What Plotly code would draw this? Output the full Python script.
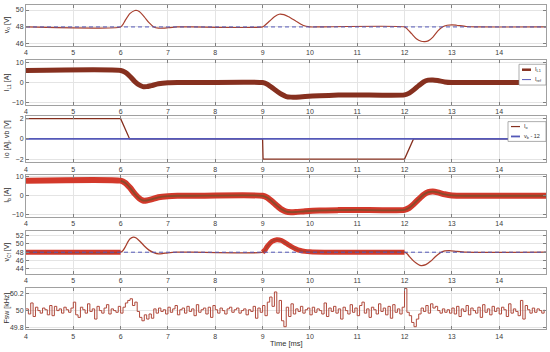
import numpy as np
import plotly.graph_objects as go

# ---------------- data ----------------
t_vo = [4, 6.0, 6.05, 6.1, 6.2, 6.3, 6.35, 6.4, 6.5, 6.6, 6.7, 6.8, 6.9, 7.0, 7.2, 7.5,
        9.0, 9.05, 9.15, 9.25, 9.35, 9.45, 9.55, 9.7, 9.85, 10.0, 10.2,
        12.0, 12.05, 12.15, 12.25, 12.35, 12.43, 12.5, 12.6, 12.7, 12.8, 12.9, 13.0, 13.1, 13.3, 13.5, 15]
vo = [48, 48, 48.3, 48.8, 49.6, 49.95, 49.95, 49.8, 49.2, 48.5, 48.0, 47.85, 47.85, 47.9, 48.0, 48.0,
      48.0, 48.2, 48.7, 49.2, 49.5, 49.45, 49.2, 48.7, 48.2, 48.0, 48.0,
      48.0, 47.8, 47.2, 46.6, 46.3, 46.25, 46.35, 46.8, 47.5, 48.0, 48.2, 48.25, 48.2, 48.05, 48.0, 48.0]
t_ref = [4, 15]
vo_ref = [48, 48]

t_il = [4, 6.0, 6.1, 6.2, 6.3, 6.4, 6.47, 6.55, 6.65, 6.8, 7.0, 7.2, 7.5,
        9.0, 9.1, 9.2, 9.3, 9.4, 9.5, 9.6, 9.7, 9.9, 10.2, 10.6, 11,
        12.0, 12.1, 12.2, 12.3, 12.4, 12.5, 12.6, 12.7, 12.85, 13.0, 13.3, 15]
i_l1 = [6, 6, 5.0, 3.0, 0.5, -1.3, -2.0, -2.0, -1.5, -0.6, -0.1, 0, 0,
        0, -0.8, -2.5, -4.2, -5.8, -6.9, -7.2, -7.2, -6.9, -6.5, -6.2, -6.1,
        -6.1, -5.2, -3.5, -1.5, 0.3, 1.2, 1.3, 1.0, 0.3, 0, 0, 0]
i_ref = [6, 6, 5.0, 3.0, 0.5, -1.0, -1.5, -1.5, -1.2, -0.5, -0.1, 0, 0,
         0, -0.8, -2.5, -4.2, -5.6, -6.5, -6.8, -6.8, -6.6, -6.4, -6.2, -6.1,
         -6.1, -5.2, -3.5, -1.5, 0.2, 1.0, 1.1, 0.9, 0.3, 0, 0, 0]

t_io = [4, 6.0, 6.19, 9.0, 9.01, 12.0, 12.19, 15]
i_o = [2, 2, 0, 0, -2, -2, 0, 0]
t_vb = [4, 15]
vb_m12 = [0, 0]

t_ib = t_il
i_b = [8, 8, 6.8, 4.2, 1.0, -1.5, -2.5, -2.5, -1.9, -0.8, -0.2, 0, 0,
       0, -1.0, -3.0, -5.2, -7.2, -8.4, -8.7, -8.6, -8.2, -7.8, -7.6, -7.5,
       -7.5, -6.4, -4.3, -1.8, 0.5, 1.9, 2.2, 1.8, 0.8, 0.2, 0, 0]

t_vc = [4, 6.0, 6.05, 6.1, 6.15, 6.2, 6.27, 6.33, 6.4, 6.5, 6.6, 6.7, 6.8, 6.9, 7.0, 7.2, 7.5,
        9.0, 9.05, 9.1, 9.2, 9.3, 9.4, 9.5, 9.6, 9.7, 9.8, 9.9, 10.0, 10.3,
        12.0, 12.05, 12.1, 12.2, 12.3, 12.35, 12.45, 12.55, 12.65, 12.75, 12.85, 12.95, 13.1, 13.3, 15]
v_cf = [48, 48, 48.4, 49.3, 50.4, 51.2, 51.6, 51.4, 50.7, 49.5, 48.5, 47.9, 47.6, 47.7, 47.85, 48.0, 48.0,
        48.0, 48.5, 49.4, 50.6, 51.0, 50.8, 50.1, 49.4, 48.8, 48.4, 48.2, 48.1, 48.0,
        48.0, 47.7, 47.0, 45.8, 45.0, 44.8, 45.0, 45.8, 46.9, 47.8, 48.3, 48.4, 48.2, 48.0, 48.0]
vcf_ref = [48, 48]

fsw = [50.02, 49.96, 50.09, 49.93, 50.04, 50.00, 49.97, 50.03, 50.01, 49.95, 50.06, 49.94, 50.05, 50.00, 50.02, 49.97, 50.04, 50.01, 49.98, 50.03,
       50.10, 49.95, 49.92, 50.04, 50.01, 49.97, 50.08, 49.99, 50.02, 49.90, 50.05, 50.00, 49.97, 50.03, 50.07, 49.96, 50.02, 50.00, 49.98, 50.05,
       49.97, 50.04, 50.09, 50.12, 50.14, 50.06, 50.10, 49.99, 49.92, 49.88, 49.95, 49.90, 49.96, 49.91, 50.02, 49.97, 50.03, 49.99, 50.01, 49.96,
       50.04, 49.98, 50.02, 50.06, 49.95, 50.01, 50.03, 49.97, 50.05, 49.99, 50.02, 49.94, 50.07, 49.98, 50.01, 50.03, 49.96, 50.04, 49.92, 50.06,
       50.01, 49.97, 50.03, 50.00, 49.96, 50.02, 50.04, 49.98, 50.01, 50.03, 49.97, 50.00, 50.02, 49.95, 50.01, 49.99, 50.05, 49.91, 50.03, 49.98,
       50.06, 49.94, 50.10, 50.16, 50.05, 50.22, 49.97, 50.12, 49.88, 49.81, 50.04, 49.93, 50.08, 49.96, 50.02, 49.99, 50.05, 49.97, 50.01, 50.03,
       49.95, 50.04, 49.98, 50.02, 50.00, 49.96, 50.09, 49.93, 50.03, 49.99, 50.05, 49.97, 50.02, 49.90, 50.04, 50.00, 49.96, 50.07, 49.98, 50.03,
       49.94, 50.06, 50.10, 49.97, 50.02, 49.92, 50.04, 50.01, 49.96, 50.08, 49.99, 50.03, 49.95, 50.05, 49.91, 50.07, 49.98, 50.02, 49.96, 50.04,
       50.26, 49.98, 49.94, 49.86, 49.81, 49.90, 49.96, 50.03, 49.99, 50.06, 49.97, 50.08, 50.03, 50.05, 50.00, 49.97, 50.02, 49.98, 50.01, 49.97,
       50.03, 49.96, 50.05, 49.93, 50.02, 49.99, 50.06, 49.95, 50.03, 50.00, 49.97, 50.04, 49.92, 50.07, 49.98, 50.02, 49.95, 50.05, 49.99, 50.03,
       49.96, 50.04, 50.01, 49.93, 50.08, 49.97, 50.02, 49.99, 49.94, 50.12, 49.90, 50.06, 50.01, 49.97, 50.03, 49.98, 50.02, 50.00, 49.97, 50.01]
t_fsw = np.round(4.0 + 0.05 * np.arange(len(fsw)), 3)

x_ticks = [4, 5, 6, 7, 8, 9, 10, 11, 12, 13, 14]
y_ticks = [[46, 48, 50], [-10, 0, 10], [-2, 0, 2], [-10, 0, 10], [44, 46, 48, 50, 52], [49.8, 50, 50.2]]
y_ranges = [[45.8, 50.6], [-11, 11], [-2.3, 2.3], [-11, 11], [42.8, 53], [49.78, 50.27]]
y_titles = ["v<sub>o</sub> [V]", "I<sub>L1</sub> [A]", "io [A], vb [V]", "I<sub>b</sub> [A]",
            "v<sub>Cf</sub> [V]", "Fsw [kHz]"]
legend_p2 = ["I<sub>L1</sub>", "I<sub>ref</sub>"]
legend_p3 = ["I<sub>o</sub>", "v<sub>b</sub> - 12"]

# ---------------- styling ----------------
W, H = 550, 352
L, R = 26, 4
PW = W - L - R
boxes = [(3, 44), (59, 104), (115, 162), (175, 217), (232, 275), (289, 331)]
FONT = "Liberation Sans"
RED = "#a8402f"
DARK = "#86301f"
BAND = "#d3392b"
BLUE = "#5458b8"

def px(x):
    return (x - L) / PW

def py(y):
    return 1 - y / H

fig = go.Figure()

def ax(i):
    return ("x" if i == 0 else f"x{i+1}"), ("y" if i == 0 else f"y{i+1}")

spl = dict(shape="spline", smoothing=0.6)

# P1
xa, ya = ax(0)
fig.add_trace(go.Scatter(x=t_vo, y=vo, mode="lines", line=dict(color=RED, width=1.2, **spl),
                         xaxis=xa, yaxis=ya))
fig.add_trace(go.Scatter(x=t_ref, y=vo_ref, mode="lines", line=dict(color=BLUE, width=1, dash="4px,3px"),
                         xaxis=xa, yaxis=ya))
# P2
xa, ya = ax(1)
fig.add_trace(go.Scatter(x=t_il, y=i_ref, mode="lines", line=dict(color=BLUE, width=1, **spl),
                         xaxis=xa, yaxis=ya, name=legend_p2[1]))
fig.add_trace(go.Scatter(x=t_il, y=i_l1, mode="lines", line=dict(color=DARK, width=5, **spl),
                         xaxis=xa, yaxis=ya, name=legend_p2[0]))
# P3
xa, ya = ax(2)
fig.add_trace(go.Scatter(x=t_io, y=i_o, mode="lines", line=dict(color=DARK, width=1.3),
                         xaxis=xa, yaxis=ya, name=legend_p3[0]))
fig.add_trace(go.Scatter(x=t_vb, y=vb_m12, mode="lines", line=dict(color=BLUE, width=1.8),
                         xaxis=xa, yaxis=ya, name=legend_p3[1]))
# P4
xa, ya = ax(3)
fig.add_trace(go.Scatter(x=t_ib, y=i_b, mode="lines", line=dict(color=BAND, width=6, **spl),
                         xaxis=xa, yaxis=ya))
tib = np.array(t_ib, dtype=float)
ib_avg = np.where(tib >= 6.0, np.array(i_b, dtype=float), np.nan)
fig.add_trace(go.Scatter(x=tib, y=ib_avg, mode="lines", line=dict(color="#8a4a2a", width=1.8, **spl),
                         xaxis=xa, yaxis=ya))
# P5
xa, ya = ax(4)
tvc = np.array(t_vc, dtype=float)
vcf_arr = np.array(v_cf, dtype=float)
band_mask = (tvc <= 6.0) | ((tvc >= 9.0) & (tvc <= 12.0))
vcf_band = np.where(band_mask, vcf_arr, np.nan)
fig.add_trace(go.Scatter(x=tvc, y=vcf_band, mode="lines", line=dict(color=BAND, width=5, **spl),
                         xaxis=xa, yaxis=ya, connectgaps=False))
fig.add_trace(go.Scatter(x=tvc, y=vcf_arr, mode="lines", line=dict(color=RED, width=1.3, **spl),
                         xaxis=xa, yaxis=ya))
fig.add_trace(go.Scatter(x=t_ref, y=vcf_ref, mode="lines", line=dict(color=BLUE, width=1, dash="4px,3px"),
                         xaxis=xa, yaxis=ya))
# P6
xa, ya = ax(5)
fig.add_trace(go.Scatter(x=t_fsw, y=fsw, mode="lines", line=dict(color="#b04a3c", width=1, shape="hv"),
                         xaxis=xa, yaxis=ya))

layout = dict(width=W, height=H, margin=dict(l=L, r=R, t=0, b=0), showlegend=False,
              paper_bgcolor="white", plot_bgcolor="white",
              font=dict(family=FONT, size=7, color="#404040"))

annotations = []
shapes = []
for i, (top, bot) in enumerate(boxes):
    dom = [py(bot), py(top)]
    xk = "xaxis" if i == 0 else f"xaxis{i+1}"
    yk = "yaxis" if i == 0 else f"yaxis{i+1}"
    xa, ya = ax(i)
    common = dict(showline=True, linecolor="#a0a0a0", linewidth=1, mirror="ticks",
                  ticks="inside", ticklen=3, tickcolor="#808080",
                  showgrid=True, gridcolor="#e4e4e4", gridwidth=1, zeroline=False,
                  tickfont=dict(family=FONT, size=7, color="#404040"))
    layout[xk] = dict(domain=[0, 1], anchor=ya, range=[4, 14.99], tickvals=x_ticks,
                      ticktext=[str(v) for v in x_ticks], **common)
    layout[yk] = dict(domain=dom, anchor=xa, range=y_ranges[i], tickvals=y_ticks[i],
                      ticktext=[("%g" % v).replace("-", "\u2212") for v in y_ticks[i]], **common)
    annotations.append(dict(text=y_titles[i], xref="paper", yref="paper",
                            x=px(7), y=(dom[0] + dom[1]) / 2, textangle=-90,
                            showarrow=False, xanchor="center", yanchor="middle",
                            font=dict(family=FONT, size=7, color="#303030")))

annotations.append(dict(text="Time [ms]", xref="paper", yref="paper", x=0.5, y=py(345),
                        showarrow=False, xanchor="center", yanchor="middle",
                        font=dict(family=FONT, size=7.5, color="#303030")))

# compact MATLAB-style legend boxes
def legend_box(x0, y0, x1, y1, entries):
    shapes.append(dict(type="rect", xref="paper", yref="paper", x0=px(x0), x1=px(x1),
                       y0=py(y1), y1=py(y0), line=dict(color="#8a8a8a", width=0.7),
                       fillcolor="white", layer="above"))
    for (label, color, lw, yy, lx0, lx1) in entries:
        shapes.append(dict(type="line", xref="paper", yref="paper", x0=px(lx0), x1=px(lx1),
                           y0=py(yy), y1=py(yy), line=dict(color=color, width=lw), layer="above"))
        annotations.append(dict(text=label, xref="paper", yref="paper", x=px(lx1 + 1.5), y=py(yy),
                                showarrow=False, xanchor="left", yanchor="middle",
                                font=dict(family=FONT, size=5.5, color="#303030")))

legend_box(519, 63, 546, 84, [(legend_p2[0], DARK, 2.5, 68.5, 522, 531),
                              (legend_p2[1], BLUE, 1, 78.5, 522, 531)])
legend_box(508, 121, 546, 141, [(legend_p3[0], DARK, 1.2, 126, 511, 520),
                                (legend_p3[1], BLUE, 1.8, 136, 511, 520)])

layout["annotations"] = annotations
layout["shapes"] = shapes

fig.update_layout(**layout)
fig.write_html("out.html", config={"displayModeBar": False},
               post_script="document.body.style.margin='0';document.body.style.padding='0';")
